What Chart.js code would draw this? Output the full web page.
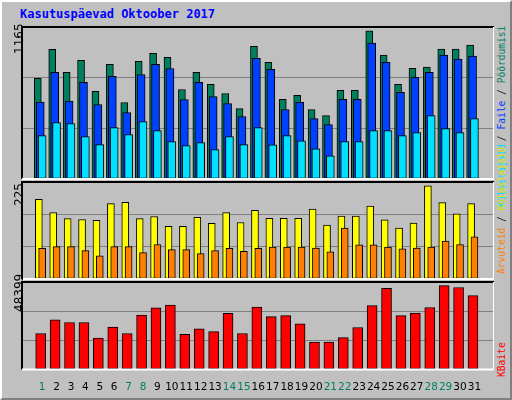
<!DOCTYPE html>
<html><head><meta charset="utf-8">
<script src="https://cdn.jsdelivr.net/npm/chart.js@4"></script>
<style>
body{margin:0;background:#c0c0c0;}
#frame{position:absolute;left:0;top:0;width:508px;height:396px;border:2px solid;border-color:#ffffff #808080 #808080 #ffffff;background:#c0c0c0;overflow:hidden;}
.c{position:absolute;}
.t{position:absolute;font-family:"DejaVu Sans Mono";font-weight:bold;font-size:12px;color:#0000ff;}
.v{position:absolute;font-family:"DejaVu Sans";font-size:12px;transform-origin:0 0;transform:rotate(-90deg);white-space:nowrap;}
</style></head><body>
<div id="frame">
<div class="t" style="left:18px;top:5px;">Kasutuspäevad Oktoober 2017</div>
<canvas id="c1" class="c" style="left:18px;top:23px;width:474px;height:155px" width="474" height="155"></canvas>
<canvas id="c2" class="c" style="left:18px;top:178px;width:474px;height:100px" width="474" height="100"></canvas>
<canvas id="c3" class="c" style="left:18px;top:278px;width:474px;height:118px" width="474" height="118"></canvas>
<div class="v" style="left:10px;top:52px;color:#000">1165</div>
<div class="v" style="left:10px;top:204px;color:#000">225</div>
<div class="v" style="left:10px;top:310px;color:#000">48399</div>
<div class="v" style="left:494px;top:272px;font-family:'DejaVu Sans Mono';font-size:9.6px;"><span style="color:#ff8000">Arvuteid</span><span style="color:#000"> / </span><span style="position:relative"><span style="color:#00e0ff;position:absolute;left:3px;top:0">Külastajaid</span><span style="color:#e0e000;position:relative">Külastajaid</span></span><span style="color:#000"> / </span><span style="color:#0040ff">Faile</span><span style="color:#000"> / </span><span style="color:#007f5f">Pöördumisi</span></div>
<div class="v" style="left:494px;top:375px;font-family:'DejaVu Sans Mono';font-size:9.6px;color:#ff0000">KBaite</div>
</div>
<script>
const days = [1,2,3,4,5,6,7,8,9,10,11,12,13,14,15,16,17,18,19,20,21,22,23,24,25,26,27,28,29,30,31];
const weekendDays = [1,7,8,14,15,21,22,28,29];
const hits   = [771,993,817,909,671,878,586,901,963,932,686,817,725,655,540,1016,895,610,641,533,486,679,679,1135,950,726,849,857,996,996,1027];
const files  = [589,817,597,740,571,786,510,801,878,847,609,740,632,579,479,924,841,533,587,463,417,610,610,1042,895,664,780,818,950,919,942];
const pages  = [333,433,425,325,264,394,341,440,371,287,256,279,225,325,264,394,262,332,293,232,178,286,286,371,371,332,355,486,386,355,463];
const visits = [185,154,140,138,136,175,178,140,145,122,122,143,129,154,131,159,141,141,141,162,125,146,146,169,137,118,130,216,177,151,175];
const hosts  = [71,75,75,66,54,75,75,61,80,68,68,59,66,71,64,71,74,74,74,72,63,118,79,79,74,70,72,74,88,80,98];
const kbytes = [19900,27490,25970,25970,17370,23440,19900,30020,34065,35580,19390,22430,20910,31030,19900,34570,29230,29740,25200,15120,15120,17640,23190,35280,44860,29740,31250,34270,46370,45360,40820];
const maxTop = 1165, maxMid = 225, maxBot = 48399;

const frame = {id:'frame',beforeDraw(c){const a=c.chartArea,x=c.ctx;x.save();x.fillStyle='#c0c0c0';x.fillRect(a.left,a.top,a.right-a.left,a.bottom-a.top);x.restore();},
 afterDraw(c){const a=c.chartArea,x=c.ctx;x.save();x.lineWidth=2;x.strokeStyle='#000';x.beginPath();x.moveTo(a.left,a.bottom);x.lineTo(a.left,a.top);x.lineTo(a.right,a.top);x.stroke();
 x.strokeStyle='#fff';x.beginPath();x.moveTo(a.right,a.top);x.lineTo(a.right,a.bottom);x.lineTo(a.left,a.bottom);x.stroke();x.restore();}};
function ds(vals,off,color,w,ord){return {data:vals.map((v,i)=>({x:days[i]+off,y:v})),backgroundColor:color,borderColor:'#000',borderWidth:1,borderSkipped:false,barThickness:w,grouped:false,order:ord};}
function mk(id,datasets,max,showX,pad){
 return new Chart(document.getElementById(id),{type:'bar',data:{datasets},plugins:[frame],
 options:{responsive:false,animation:false,layout:{padding:pad},plugins:{legend:{display:false},tooltip:{enabled:false}},
 scales:{x:{type:'linear',min:0.13,max:31.83,display:showX,grid:{display:false},border:{display:false},
   afterBuildTicks(s){s.ticks=days.map(d=>({value:d}));},
   ticks:{autoSkip:false,maxRotation:0,padding:4,font:{family:'DejaVu Sans',size:10.5},color:(c)=>weekendDays.includes(c.tick.value)?'#008060':'#000'}},
  y:{min:0,max:max,afterBuildTicks(s){s.ticks=[0,max/3,2*max/3,max].map(v=>({value:v}));},ticks:{display:false},grid:{color:'#808080',drawTicks:false,lineWidth:1},border:{display:false}}}}});
}
mk('c1',[ds(hits,-0.3,'#007f5f',7,3),ds(files,-0.13,'#0040ff',8,2),ds(pages,0,'#00e0ff',8,1)],maxTop,false,{left:2,top:2,right:0,bottom:1});
mk('c2',[ds(visits,-0.23,'#ffff00',7,2),ds(hosts,0,'#ff8000',7,1)],maxMid,false,{left:2,top:2,right:0,bottom:1});
mk('c3',[ds(kbytes,-0.1,'#ff0000',10,1)],maxBot,true,{left:2,top:2,right:0,bottom:0});
</script>
</body></html>
